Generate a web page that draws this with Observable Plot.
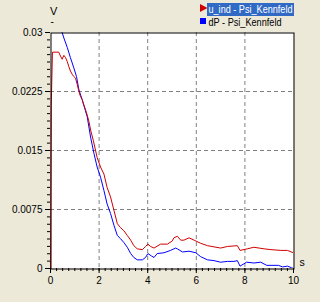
<!DOCTYPE html>
<html>
<head>
<meta charset="utf-8">
<script src="https://cdn.jsdelivr.net/npm/d3@7"></script>
<script src="https://cdn.jsdelivr.net/npm/@observablehq/plot@0.6"></script>
<style>
  html, body { margin: 0; padding: 0; background: #ece9d8; }
  #wrap { position: relative; width: 320px; height: 302px; background: #ece9d8; overflow: hidden;
          font-family: "Liberation Sans", Arial, sans-serif; font-size: 11px; color: #000; }
  #chart { position: absolute; left: 0; top: 0; }
</style>
</head>
<body>
<div id="wrap">
  <div id="chart"></div>
  <div id="legend"></div>
</div>
<script>
// ---- data ----
const seriesNames = ["u_ind - Psi_Kennfeld", "dP - Psi_Kennfeld"];
const seriesColors = ["#d00000", "#0000ff"];
const yUnit = "V";
const yUnitSub = "-";
const xUnit = "s";

const redT = [0,0.03,0.08,0.34,0.41,0.48,0.55,0.62,0.69,0.75,0.82,0.89,0.96,1.03,1.10,1.17,1.23,1.30,1.37,1.44,1.51,1.58,1.65,1.76,1.92,2.06,2.20,2.33,2.47,2.61,2.75,2.88,3.02,3.16,3.30,3.43,3.57,3.78,3.91,4.01,4.12,4.26,4.53,4.81,5.01,5.08,5.22,5.36,5.49,5.70,5.91,6.18,6.46,7.00,7.28,7.69,7.80,8.10,8.37,8.79,9.07,9.48,9.75,10];
const redV = [0,0.0207,0.0275,0.0275,0.0270,0.0266,0.0271,0.0268,0.0263,0.0257,0.0251,0.0247,0.0244,0.0242,0.0234,0.0225,0.0219,0.0215,0.0208,0.0202,0.0195,0.0187,0.0176,0.0163,0.0141,0.0129,0.0120,0.0103,0.0091,0.0074,0.0057,0.0052,0.0048,0.0042,0.0036,0.0029,0.0025,0.0024,0.0028,0.0031,0.0028,0.0026,0.0031,0.0031,0.0035,0.0039,0.0041,0.0036,0.0036,0.0039,0.0036,0.0032,0.0029,0.0026,0.0028,0.0029,0.0023,0.0025,0.0027,0.0025,0.0024,0.0023,0.0023,0.0020];

const blueT = [0,0.30,0.48,0.55,0.69,0.82,0.96,1.07,1.17,1.30,1.51,1.65,1.79,1.92,2.06,2.20,2.33,2.47,2.61,2.75,2.88,3.02,3.16,3.30,3.43,3.57,3.78,3.91,4.01,4.15,4.26,4.39,4.67,4.94,5.15,5.22,5.43,5.70,5.98,6.18,6.46,6.73,7.00,7.28,7.55,7.69,7.80,8.07,8.37,8.65,8.90,9.38,9.55,9.75,9.92,10];
const blueV = [0.0355,0.0320,0.0300,0.0293,0.0281,0.0268,0.0255,0.0244,0.0227,0.0215,0.0193,0.0167,0.0146,0.0129,0.0116,0.0099,0.0082,0.0070,0.0055,0.0042,0.0038,0.0033,0.0027,0.0019,0.0014,0.0011,0.0011,0.0014,0.0019,0.0016,0.0014,0.0019,0.0020,0.0023,0.0026,0.0025,0.0021,0.0022,0.0020,0.0015,0.0011,0.0010,0.0008,0.0009,0.0009,0.0010,0.0003,0.0008,0.0007,0.0008,0.0004,0.0004,0.0002,0.0003,0.0001,0];

const xTicks = [0,2,4,6,8,10];
const yTicks = [0,0.0075,0.015,0.0225,0.03];
const yTickLabels = ["0","0.0075","0.015","0.0225","0.03"];
const xMinor = d3.range(0, 10.001, 0.25);
const yMinor = d3.range(0, 0.03001, 0.0075/8);

// ---- build ----
const red = redT.map((t,i) => ({t, v: redV[i]}));
const blue = blueT.map((t,i) => ({t, v: blueV[i]}));
const grid = {stroke: "#808080", strokeOpacity: 1, strokeDasharray: "4,3"};

const chart = Plot.plot({
  width: 320, height: 302,
  marginLeft: 50, marginRight: 27, marginTop: 32, marginBottom: 34,
  style: {background: "transparent", fontFamily: '"Liberation Sans",Arial,sans-serif', fontSize: "10px", color: "#000"},
  x: {domain: [0,10]},
  y: {domain: [0,0.03]},
  marks: [
    Plot.frame({fill: "white"}),
    Plot.gridX([2,4,6,8], grid),
    Plot.gridY([0.0075,0.015,0.0225], grid),
    Plot.line(blue, {x: "t", y: "v", stroke: seriesColors[1], strokeWidth: 1, clip: true}),
    Plot.line(red, {x: "t", y: "v", stroke: seriesColors[0], strokeWidth: 1, clip: true}),
    Plot.frame({stroke: "#000", strokeWidth: 1, insetLeft: 0.5, insetTop: 0.5, insetRight: -0.5, insetBottom: -0.5}),
    Plot.axisX({ticks: xMinor, tickSize: 3, text: null, label: null, stroke: "#000"}),
    Plot.axisX({ticks: xTicks, tickSize: 5, tickPadding: 3, label: null, tickFormat: d => String(d), stroke: "#000", fill: "#000"}),
    Plot.axisY({ticks: yMinor, tickSize: 3, text: null, label: null, stroke: "#000"}),
    Plot.axisY({ticks: yTicks, tickSize: 5, tickPadding: 3, label: null, tickFormat: d => yTickLabels[yTicks.indexOf(d)], stroke: "#000", fill: "#000"})
  ]
});
document.getElementById("chart").appendChild(chart);

// ---- legend and unit labels (SVG overlay, real text) ----
const legend = document.getElementById("legend");
legend.innerHTML = `
  <svg style="position:absolute;left:0;top:0;pointer-events:none" width="320" height="302" font-family="Liberation Sans, Arial, sans-serif" font-size="10">
    <text x="50" y="14.5" font-size="11" fill="#000">${yUnit}</text>
    <text x="50.5" y="25" font-size="10" fill="#000">${yUnitSub}</text>
    <text x="299.5" y="266" font-size="10.5" fill="#000">${xUnit}</text>
    <polygon points="200,4 207.5,8 200,12" fill="${seriesColors[0]}"/>
    <rect x="207" y="3" width="87" height="13" fill="#316ac5"/>
    <text x="208.5" y="13" font-size="10.5" fill="#fff" textLength="84" lengthAdjust="spacingAndGlyphs">${seriesNames[0]}</text>
    <rect x="200" y="18" width="6" height="6" fill="${seriesColors[1]}"/>
    <text x="208.5" y="26" font-size="10.5" fill="#000" textLength="73" lengthAdjust="spacingAndGlyphs">${seriesNames[1]}</text>
  </svg>
`;
</script>
</body>
</html>
